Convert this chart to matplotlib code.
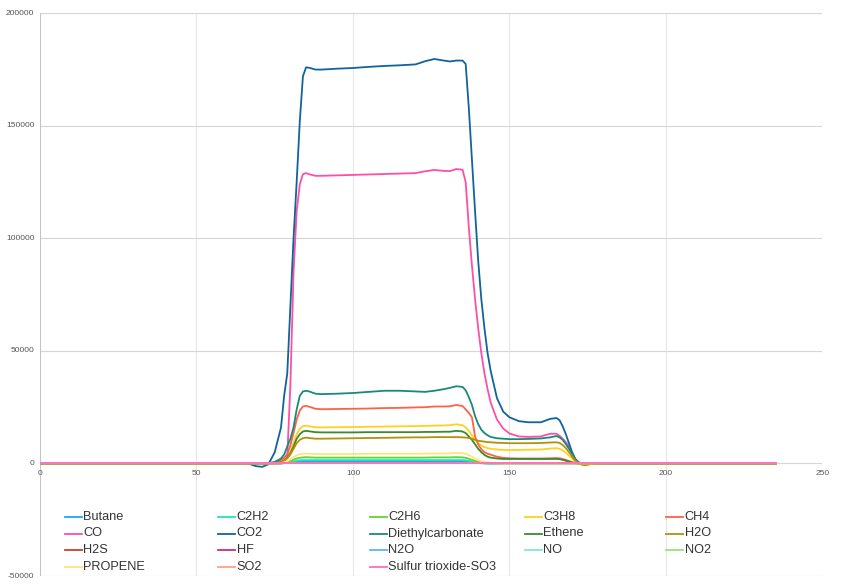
import matplotlib
matplotlib.use("Agg")
import matplotlib.pyplot as plt

plt.rcParams['font.family'] = ['Liberation Sans', 'DejaVu Sans']

W, H = 843, 587

# shared time axis (sample positions)
X = [0, 65, 67, 69, 71, 73, 75,
     77, 78, 79, 80, 81, 82, 83, 84, 85, 86,
     88, 90, 95, 100, 105, 110, 115, 120,
     123, 126, 129, 131, 133, 135,
     136, 137, 138, 139, 140, 141, 142, 143, 144,
     146, 148, 150, 153, 156, 160, 163, 165,
     166, 167, 168, 169, 170, 171, 172, 173, 174,
     176, 180, 235]

Z7, Z10, Z8, Z6, Z9, Z3 = [0] * 7, [0] * 10, [0] * 8, [0] * 6, [0] * 9, [0] * 3

BUTANE = (Z7 + [30, 100, 200, 400, 600, 800, 900, 1000, 1000, 1000]
          + [1000] * 8 + [1000] * 6
          + [950, 800, 600, 400, 200, 100, 0, 0, 0] + Z8 + Z9 + Z3)
C2H2 = (Z7 + [50, 150, 300, 600, 900, 1200, 1400, 1500, 1500, 1500]
        + [1500] * 8 + [1500] * 6
        + [1400, 1200, 900, 600, 350, 200, 100, 0, 0] + Z8 + Z9 + Z3)
C2H6 = (Z7 + [100, 300, 600, 1100, 1700, 2200, 2500, 2700, 2800, 2700]
        + [2600] * 8 + [2600, 2700, 2700, 2700, 2800, 2700]
        + [2500, 2100, 1600, 1100, 700, 400, 200, 100, 0] + Z8 + Z9 + Z3)
C3H8 = (Z7 + [800, 1500, 3000, 5500, 9000, 13000, 15500, 16500, 16800, 16500]
        + [16100, 16000, 16100, 16200, 16300, 16400, 16500, 16600]
        + [16700, 16800, 16900, 17000, 17400, 17000]
        + [16000, 14500, 12500, 10500, 9000, 8000, 7300, 6800, 6500]
        + [6200, 6000, 6000, 6000, 6100, 6200, 6600, 6800]
        + [6500, 5800, 4700, 3500, 2200, 900, 200, 0, 0] + Z3)
CH4 = ([0, 0, 0, 0, 0, 0, 300]
       + [1500, 2500, 4200, 8000, 13500, 19500, 23500, 25300, 25600, 25200]
       + [24300, 24100, 24200, 24300, 24400, 24600, 24700, 24900]
       + [25000, 25300, 25300, 25400, 26000, 25500]
       + [24000, 22500, 20500, 12000, 8500, 6300, 5000, 4300, 3900]
       + [3000, 2500, 2300, 2200, 2200, 2200, 2300, 2400]
       + [2300, 2000, 1600, 1100, 600, 200, 0, 0, 0] + Z3)
CO = (Z7 + [0, 500, 3000, 35000, 85000, 112000, 124000, 128500, 129000, 128500]
      + [127800, 127800, 128000, 128200, 128400, 128600, 128800, 129000]
      + [129800, 130400, 130000, 129900, 130800, 130500]
      + [125000, 105000, 88000, 73000, 60000, 49000, 40000, 33000, 27000]
      + [19500, 15500, 13300, 12000, 11800, 12000, 13200, 13200]
      + [12300, 11000, 9500, 7500, 4500, 2000, 500, 0, 0] + Z3)
CO2 = ([0, 0, -300, -1200, -1500, -300, 5000]
       + [16000, 30000, 40000, 70000, 100000, 125000, 152000, 172000, 176000, 175800]
       + [175000, 175000, 175400, 175700, 176200, 176600, 176900, 177300]
       + [178700, 179700, 179000, 178600, 179000, 179000]
       + [177500, 158000, 135000, 112000, 90000, 73000, 60000, 49000, 41000]
       + [29000, 23000, 20500, 18800, 18300, 18300, 19800, 20200]
       + [19200, 16500, 13000, 9000, 5000, 2000, 400, -300, -600]
       + [-200, 0, 0])
DIETHYLCARBONATE = ([0, 0, 0, 0, 0, 100, 700]
                    + [2200, 4000, 7500, 11000, 16000, 24000, 30000, 32000, 32300, 32000]
                    + [31000, 30800, 31000, 31300, 31800, 32300, 32300, 32000]
                    + [31800, 32300, 33000, 33600, 34300, 34000]
                    + [32500, 29500, 26000, 21000, 17500, 15000, 13500, 12500, 11800]
                    + [11200, 11000, 10800, 10800, 10900, 11100, 11600, 12200]
                    + [11600, 10500, 8600, 6500, 4200, 2000, 600, 0, 0] + Z3)
ETHENE = (Z7 + [700, 1300, 2500, 4500, 7500, 11000, 13000, 14200, 14500, 14300]
          + [13900, 13800, 13800, 13800, 13900, 13900, 13900, 13900]
          + [14000, 14000, 14100, 14100, 14500, 14200]
          + [13500, 12000, 10500, 8500, 6500, 5000, 3800, 3000, 2600]
          + [2200, 2000, 2000, 2000, 2000, 2000, 2000, 2000]
          + [1900, 1600, 1200, 800, 400, 100, 0, 0, 0] + Z3)
H2O = (Z7 + [600, 1200, 2300, 4000, 6500, 9000, 10500, 11200, 11500, 11300]
       + [11000, 11000, 11100, 11200, 11300, 11400, 11500, 11600]
       + [11600, 11700, 11700, 11700, 11700, 11600]
       + [11500, 11300, 11000, 10500, 10100, 9900, 9700, 9500, 9400]
       + [9200, 9100, 9000, 9000, 9000, 9100, 9300, 9400]
       + [9100, 8200, 6800, 5000, 3000, 1300, 200, -500, -700]
       + [-300, 0, 0])
H2S = Z7 + Z10 + Z8 + Z6 + Z9 + Z8 + Z9 + Z3
HF = Z7 + Z10 + Z8 + Z6 + Z9 + Z8 + Z9 + Z3
N2O = Z7 + Z10 + Z8 + Z6 + Z9 + Z8 + Z9 + Z3
NO = Z7 + Z10 + Z8 + Z6 + Z9 + Z8 + Z9 + Z3
NO2 = Z7 + Z10 + Z8 + Z6 + Z9 + Z8 + Z9 + Z3
PROPENE = (Z7 + [200, 500, 1000, 1800, 2800, 3600, 4100, 4300, 4400, 4300]
           + [4200, 4200, 4200, 4200, 4300, 4300, 4300, 4300]
           + [4400, 4400, 4400, 4500, 4700, 4600]
           + [4300, 3700, 3000, 2200, 1500, 1000, 600, 400, 200]
           + [100, 0, 0, 0, 0, 0, 0, 0] + Z9 + Z3)
SO2 = Z7 + Z10 + Z8 + Z6 + Z9 + Z8 + Z9 + Z3
SO3 = Z7 + Z10 + Z8 + Z6 + Z9 + Z8 + Z9 + Z3

SERIES = [
    ("Butane", BUTANE, "#1ea7f2"),
    ("C2H2", C2H2, "#1de6c0"),
    ("C2H6", C2H6, "#5fd62e"),
    ("C3H8", C3H8, "#ffd11f"),
    ("CH4", CH4, "#ff6048"),
    ("CO", CO, "#ff4fa3"),
    ("CO2", CO2, "#0f649c"),
    ("Diethylcarbonate", DIETHYLCARBONATE, "#178a7b"),
    ("Ethene", ETHENE, "#3a8a2a"),
    ("H2O", H2O, "#b58f0c"),
    ("H2S", H2S, "#c9412b"),
    ("HF", HF, "#c42f78"),
    ("N2O", N2O, "#62b4f5"),
    ("NO", NO, "#7fe9d8"),
    ("NO2", NO2, "#9ce07a"),
    ("PROPENE", PROPENE, "#ffe47c"),
    ("SO2", SO2, "#ff9f8a"),
    ("Sulfur trioxide-SO3", SO3, "#ff6fb8"),
]

XTICKS = [0, 50, 100, 150, 200, 250]
YTICKS = [-50000, 0, 50000, 100000, 150000, 200000]

fig = plt.figure(figsize=(W / 100, H / 100), dpi=100)
ax = fig.add_axes([40 / W, 1 - 576 / H, (822.5 - 40) / W, (576 - 13.3) / H])
ax.set_xlim(0, 250)
ax.set_ylim(-50000, 200000)

for spine in ax.spines.values():
    spine.set_visible(False)
ax.set_xticks([])
ax.set_yticks([])

# grid
for v in XTICKS[1:]:
    ax.axvline(v, color="#e6e6e6", lw=0.8, zorder=0)
for v in YTICKS[1:]:
    ax.axhline(v, color="#d6d6d6", lw=0.8, zorder=0)
ax.axvline(0, color="#c4c4c4", lw=0.8, zorder=0)
ax.axhline(-50000, color="#cccccc", lw=0.8, zorder=0)

for name, vals, color in SERIES:
    assert len(vals) == len(X), name
    ax.plot(X, vals, color=color, lw=1.3, solid_joinstyle="round", zorder=2)

for v in XTICKS:
    ax.annotate(str(v), (v, 0), xytext=(0, -5), textcoords="offset points",
                ha="center", va="top", fontsize=6, color="#555555")
for v in YTICKS:
    ax.annotate(str(v), (0, v), xytext=(-4, 0), textcoords="offset points",
                ha="right", va="center", fontsize=6, color="#555555",
                annotation_clip=False)

# legend, filled row by row like the original
col_px = [65, 218, 370, 525, 666]
row_px = [517, 533.5, 550, 567]
for i, (name, vals, color) in enumerate(SERIES):
    r, c = divmod(i, 5)
    x0 = col_px[c] / W
    y0 = 1 - row_px[r] / H
    fig.add_artist(plt.Line2D([x0, x0 + 17 / W], [y0, y0], color=color, lw=1.3))
    fig.text(x0 + 18.5 / W, y0, name, fontsize=9.2, color="#333333",
             ha="left", va="center")

fig.savefig("out.png", dpi=100)
